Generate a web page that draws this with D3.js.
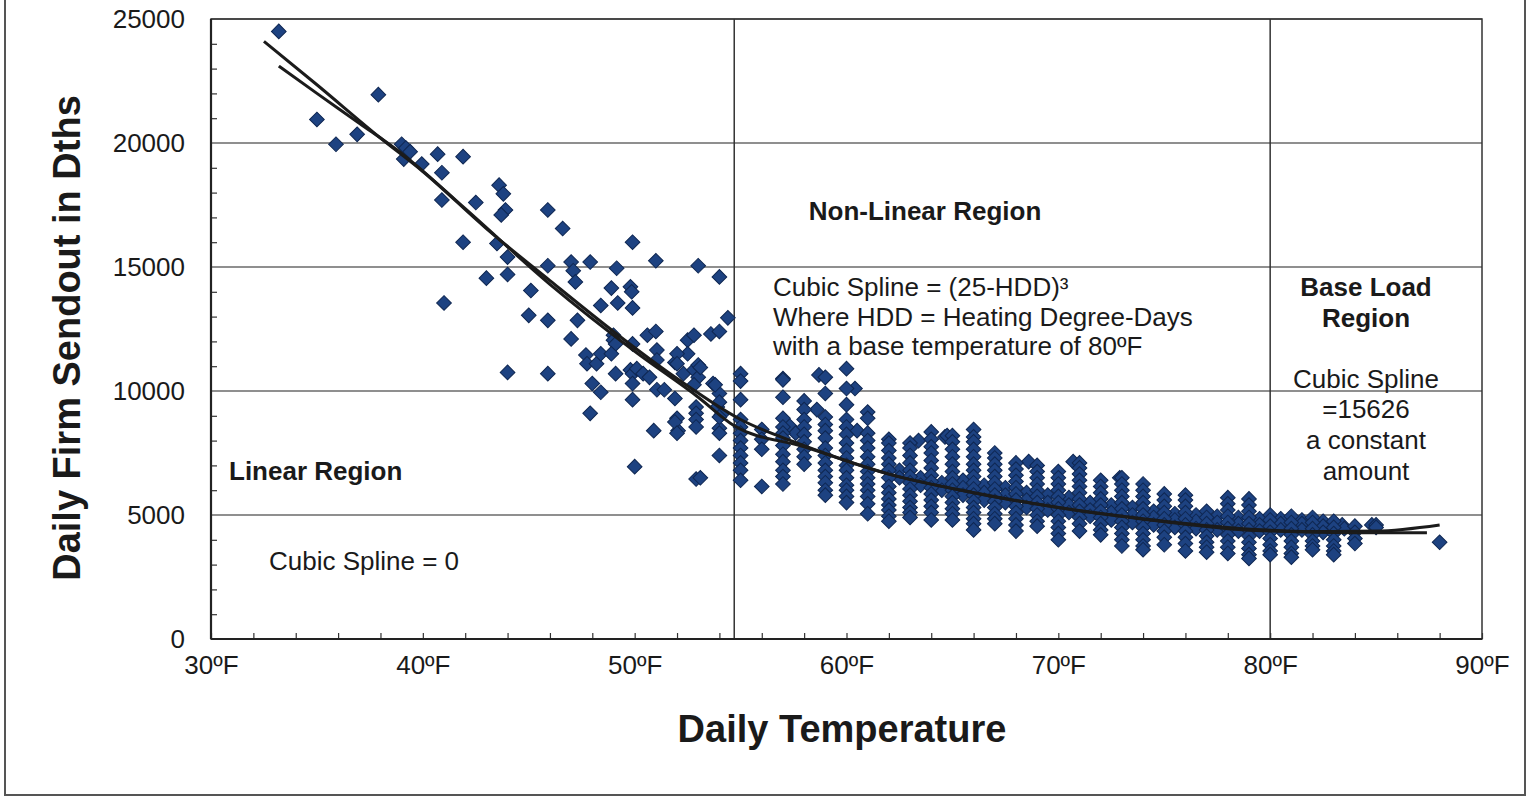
<!DOCTYPE html>
<html>
<head>
<meta charset="utf-8">
<script src="https://cdn.jsdelivr.net/npm/d3@7"></script>
<style>
  body { margin: 0; background: #fff; }
  text { font-family: "Liberation Sans", Arial, sans-serif; fill: #1a1a1a; }
  .bold { font-weight: bold; }
</style>
</head>
<body>
<div id="chart"></div>
<script>
// tick labels
var xTicks = [30, 40, 50, 60, 70, 80, 90];
var yTicks = [0, 5000, 10000, 15000, 20000, 25000];
var xMinor = [30,32,34,36,38,40,42,44,46,48,50,52,54,56,58,60,62,64,66,68,70,72,74,76,78,80,82,84,86,88,90];
var yMinor = [1000,2000,3000,4000,6000,7000,8000,9000,11000,12000,13000,14000,16000,17000,18000,19000,21000,22000,23000,24000];
var regionBreaks = [54.7, 80];

// scattered days below 55F  [temperature, sendout]
var sparsePoints = [
  [33.2,24500],[35.0,20950],[35.9,19950],[36.9,20350],[37.9,21950],
  [39.0,19950],[39.2,19800],[39.1,19350],[39.4,19650],[39.95,19150],
  [40.7,19550],[40.9,18800],[41.9,19450],[40.9,17700],[42.5,17600],[41.9,16000],[43.0,14550],[41.0,13550],
  [43.6,18300],[43.8,17950],[43.9,17300],[43.7,17100],[43.5,15950],[44.0,15400],[44.0,14700],
  [45.9,17300],[46.6,16550],[49.9,16000],
  [45.1,14050],[45.9,15050],[47.0,15200],[47.1,14850],[47.2,14400],[47.9,15200],[49.15,14950],[48.9,14150],
  [49.8,14200],[49.2,13550],[49.9,13350],[48.4,13450],[49.86,14000],
  [45.0,13050],[45.9,12850],[47.3,12850],[47.0,12100],[49.0,12250],[49.0,12050],[49.1,11900],[49.9,11900],
  [50.6,12250],[51.0,12400],[51.0,15250],[53.0,15050],[54.0,14600],[54.4,12950],[52.5,12050],[52.8,12250],
  [53.6,12300],[54.0,12400],[52.5,11500],
  [44.0,10750],[45.9,10700],[47.7,11450],[47.75,11100],[48.2,11100],[48.4,11500],[48.0,10300],[48.4,9950],[47.9,9100],
  [48.9,11500],[49.1,10700],[49.8,10850],[49.9,10700],[50.1,10900],[50.4,10700],[50.7,10550],[49.9,10300],[49.9,9650],
  [51.05,11650],[51.05,11250],[51.9,11150],[51.05,10050],[51.4,10050],[52.0,11500],[52.0,11100],[51.9,9700],
  [52.3,10700],[52.8,10850],[53.0,11050],[53.0,10550],[53.1,10950],[52.8,10250],
  [52.9,9350],[52.9,9100],[52.9,8850],[52.9,8550],[52.0,8900],[52.05,8400],[54.0,9900],[53.9,9350],[53.7,10300],[53.8,10250],
  [51.9,8750],[50.9,8400],[52.0,8300],[54.0,8500],[54.0,7400],[52.9,6450],[50.0,6950],
  [54.0,9550],[54.1,9050],[54.0,8950],[54.0,8300],[53.1,6500]
];

// stacked days at whole degrees
var columnTemps = [55, 56, 57, 58, 59, 60, 61, 62, 63, 64, 65, 66, 67, 68, 69, 70, 71, 72, 73, 74, 75, 76, 77, 78, 79, 80, 81, 82, 83, 84, 85, 88];
var columnValues = [
  [10700,10400,9650,8850,8550,8300,8000,7700,7400,7100,6800,6400],
  [8450,8050,7650,6150],
  [10500,10450,9750,8900,8550,8300,8100,7800,7450,7150,6800,6550,6250],
  [9600,9250,8850,8550,8250,7950,7650,7350,7050],
  [10550,9900,8950,8650,8400,8100,7700,7400,7100,6800,6550,6300,6000,5800],
  [10900,10100,9450,8850,8550,8250,7900,7600,7300,7000,6800,6500,6200,6000,5750,5500],
  [9150,8900,8300,8000,7700,7350,7050,6750,6500,6250,6000,5750,5450,5050],
  [8050,7900,7600,7300,7050,6800,6500,6150,5900,5650,5400,5200,4950,4750],
  [7900,7700,7400,7100,6800,6550,6300,6050,5800,5550,5300,5100,4900],
  [8350,8050,7750,7500,7200,6900,6600,6350,6100,5850,5600,5350,5100,4800],
  [8200,7950,7650,7350,7050,6750,6500,6250,6000,5750,5500,5250,5050,4800],
  [8450,8150,7950,7650,7350,7050,6800,6550,6300,6050,5800,5550,5300,5100,4850,4650,4400],
  [7500,7300,7050,6800,6550,6300,6050,5800,5550,5300,5050,4850,4650],
  [7100,6850,6600,6350,6100,5850,5600,5350,5100,4850,4600,4350],
  [7000,6750,6500,6250,6000,5750,5500,5250,5000,4750,4550],
  [6750,6500,6250,6000,5750,5500,5250,5000,4750,4500,4250,4000],
  [7100,6900,6650,6400,6150,5900,5650,5400,5150,4900,4650,4350],
  [6400,6150,5900,5650,5400,5150,4900,4650,4400,4200],
  [6500,6250,6000,5750,5500,5250,5000,4750,4500,4250,4000,3750],
  [6250,6000,5750,5500,5250,5000,4750,4500,4250,4000,3750,3600],
  [5850,5600,5350,5100,4850,4600,4350,4100,3800],
  [5800,5600,5350,5100,4850,4600,4350,4100,3850,3550],
  [5150,4900,4650,4400,4150,3900,3700,3500],
  [5700,5450,5200,4950,4700,4450,4200,3950,3700,3450],
  [5650,5400,5150,4900,4650,4400,4150,3900,3650,3400,3250],
  [5000,4800,4550,4300,4050,3800,3550,3400],
  [4950,4700,4450,4200,3950,3700,3450,3300],
  [4900,4700,4450,4200,3950,3750,3600],
  [4750,4500,4250,4000,3750,3550,3400],
  [4550,4300,4050,3850],
  [4600,4500],
  [3900]
];

// days between whole degrees and odd outliers
var bandPoints = [
  [57.3,8600],[57.6,8300],[58.7,10650],[58.6,9250],[60.4,10100],[60.5,8400],[63.4,8000],[64.65,8150],
  [64.75,8200],[68.6,7150],[70.7,7150],[72.9,6500],[83.4,4600],[84.8,4600],
  [62.5,6800],[62.5,6500],[63.5,6500],[63.5,6200],[64.5,6300],[64.5,6000],[65.5,6400],[65.5,6100],[65.5,5800],
  [66.5,6200],[66.5,5900],[66.5,5600],[67.5,6100],[67.5,5800],[67.5,5500],[68.5,5900],[68.5,5600],[68.5,5300],
  [69.5,5800],[69.5,5500],[69.5,5200],[70.5,5700],[70.5,5400],[70.5,5100],[71.5,5500],[71.5,5200],[71.5,4950],
  [72.5,5400],[72.5,5100],[72.5,4800],[73.5,5300],[73.5,5000],[73.5,4700],[74.5,5150],[74.5,4900],[74.5,4600],
  [75.5,5050],[75.5,4800],[75.5,4500],[76.5,5000],[76.5,4750],[76.5,4450],[77.5,4950],[77.5,4700],[77.5,4400],
  [78.5,4900],[78.5,4650],[78.5,4350],[79.5,4850],[79.5,4600],[79.5,4350],[80.5,4850],[80.5,4650],[80.5,4400],
  [81.5,4800],[81.5,4650],[81.5,4400],[82.5,4750],[82.5,4550],[82.5,4300],[83.5,4450]
];

// the two fitted curves
var fitATemps = [32.5, 35, 38, 40, 43, 46, 49, 52, 55, 58, 62, 66, 70, 74, 78, 82, 85, 88];
var fitAValues = [24100, 22350, 20200, 18850, 16550, 14450, 12400, 10500, 8850, 7800, 6650, 5900, 5300, 4850, 4500, 4330, 4350, 4600];
var fitBTemps = [33.2, 35, 37, 39, 42, 46, 50, 53, 54.7, 58, 62, 66, 70, 74, 78, 80, 84, 87.4];
var fitBValues = [23100, 22000, 20800, 19580, 17350, 14300, 11600, 9750, 8600, 7750, 6650, 5900, 5300, 4830, 4450, 4350, 4280, 4280];

var svgWidth = 1528;
var svgHeight = 799;

var svg = d3.select("#chart")
  .append("svg")
  .attr("width", svgWidth)
  .attr("height", svgHeight);

var x = d3.scaleLinear().domain([30, 90]).range([211, 1482]);
var y = d3.scaleLinear().domain([0, 25000]).range([639, 19]);

// outer frame
svg.append("rect")
  .attr("x", 5).attr("y", -5)
  .attr("width", 1520).attr("height", 800)
  .attr("fill", "none")
  .attr("stroke", "#555")
  .attr("stroke-width", 2);

// horizontal grid
svg.append("g").selectAll("line")
  .data(yTicks.slice(1))
  .enter().append("line")
  .attr("x1", x(30)).attr("x2", x(90))
  .attr("y1", d => y(d)).attr("y2", d => y(d))
  .attr("stroke", "#6a6a6a")
  .attr("stroke-width", 1.5);

// region dividers
svg.append("g").selectAll("line")
  .data(regionBreaks)
  .enter().append("line")
  .attr("x1", d => x(d)).attr("x2", d => x(d))
  .attr("y1", y(0)).attr("y2", y(25000))
  .attr("stroke", "#333")
  .attr("stroke-width", 1.5);

// plot border
svg.append("rect")
  .attr("x", x(30)).attr("y", y(25000))
  .attr("width", x(90) - x(30)).attr("height", y(0) - y(25000))
  .attr("fill", "none")
  .attr("stroke", "#333")
  .attr("stroke-width", 1.5);

// minor ticks
var xMinorAxis = svg.append("g")
  .attr("transform", `translate(0, ${y(0)})`)
  .call(d3.axisBottom(x).tickValues(xMinor).tickSize(-6).tickFormat(""));
var yMinorAxis = svg.append("g")
  .attr("transform", `translate(${x(30)}, 0)`)
  .call(d3.axisLeft(y).tickValues(yMinor).tickSize(-6).tickFormat(""));
[xMinorAxis, yMinorAxis].forEach(function(g) {
  g.select(".domain").remove();
  g.selectAll("line").attr("stroke", "#333").attr("stroke-width", 1.2);
});

// axis lines
svg.append("line")
  .attr("x1", x(30)).attr("x2", x(90)).attr("y1", y(0)).attr("y2", y(0))
  .attr("stroke", "#222").attr("stroke-width", 2.2);
svg.append("line")
  .attr("x1", x(30)).attr("x2", x(30)).attr("y1", y(0)).attr("y2", y(25000))
  .attr("stroke", "#222").attr("stroke-width", 2.2);

// tick labels
var xAxis = svg.append("g")
  .attr("transform", `translate(0, ${y(0)})`)
  .call(d3.axisBottom(x).tickValues(xTicks).tickSize(0).tickPadding(17).tickFormat(d => d + "ºF"));
var yAxis = svg.append("g")
  .attr("transform", `translate(${x(30)}, 0)`)
  .call(d3.axisLeft(y).tickValues(yTicks).tickSize(0).tickPadding(26).tickFormat(d3.format("d")));
[xAxis, yAxis].forEach(function(g) {
  g.select(".domain").remove();
  g.selectAll("text")
    .attr("font-size", 26)
    .attr("font-family", "'Liberation Sans', Arial, sans-serif")
    .attr("fill", "#1a1a1a");
});

// points
var allPoints = sparsePoints.concat(bandPoints);
columnTemps.forEach(function(t, i) {
  columnValues[i].forEach(function(v) { allPoints.push([t, v]); });
});

var diamond = d3.symbol().type(d3.symbolSquare).size(108);
svg.append("g").selectAll("path")
  .data(allPoints)
  .enter().append("path")
  .attr("d", diamond)
  .attr("transform", d => `translate(${x(d[0])}, ${y(d[1])}) rotate(45)`)
  .attr("fill", "#1d4281")
  .attr("stroke", "#0f2752")
  .attr("stroke-width", 1);

// fitted curves
var line = d3.line()
  .x(d => x(d[0]))
  .y(d => y(d[1]))
  .curve(d3.curveMonotoneX);

svg.append("path")
  .datum(fitATemps.map((t, i) => [t, fitAValues[i]]))
  .attr("d", line)
  .attr("fill", "none")
  .attr("stroke", "#1b1b1b")
  .attr("stroke-width", 3);

svg.append("path")
  .datum(fitBTemps.map((t, i) => [t, fitBValues[i]]))
  .attr("d", line)
  .attr("fill", "none")
  .attr("stroke", "#1b1b1b")
  .attr("stroke-width", 3);

// axis titles
svg.append("text")
  .attr("class", "bold")
  .attr("transform", "translate(80, 338) rotate(-90)")
  .attr("text-anchor", "middle")
  .attr("font-size", 38)
  .text("Daily Firm Sendout in Dths");

svg.append("text")
  .attr("class", "bold")
  .attr("x", 842).attr("y", 742)
  .attr("text-anchor", "middle")
  .attr("font-size", 38)
  .text("Daily Temperature");

// region notes
function note(tx, ty, str, bold, anchor) {
  svg.append("text")
    .attr("class", bold ? "bold" : null)
    .attr("x", tx).attr("y", ty)
    .attr("text-anchor", anchor || "start")
    .attr("font-size", 26)
    .text(str);
}

note(925, 220, "Non-Linear Region", true, "middle");
note(773, 296, "Cubic Spline = (25-HDD)³");
note(773, 325.5, "Where HDD = Heating Degree-Days");
note(773, 355, "with a base temperature of 80ºF");

note(1366, 296, "Base Load", true, "middle");
note(1366, 327, "Region", true, "middle");
note(1366, 388, "Cubic Spline", false, "middle");
note(1366, 418, "=15626", false, "middle");
note(1366, 449, "a constant", false, "middle");
note(1366, 480, "amount", false, "middle");

note(229, 480, "Linear Region", true);
note(269, 570, "Cubic Spline = 0");
</script>
</body>
</html>
